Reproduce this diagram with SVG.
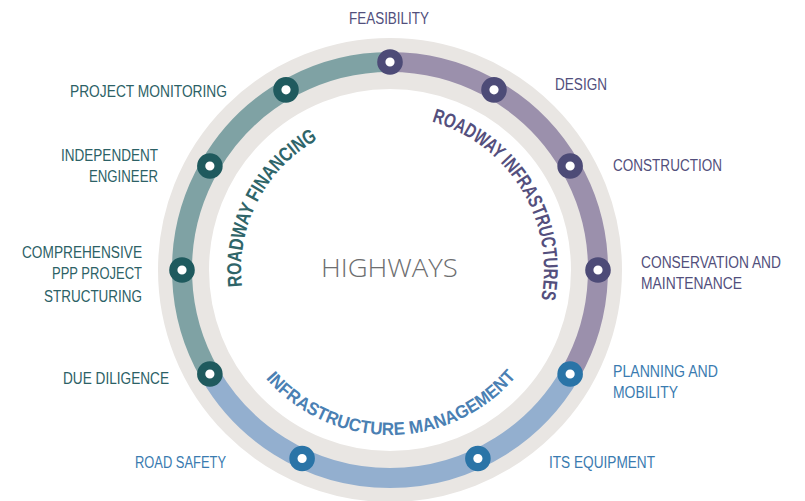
<svg xmlns="http://www.w3.org/2000/svg" xmlns:xlink="http://www.w3.org/1999/xlink" width="805" height="501" viewBox="0 0 805 501">
<style>
.lbl{font-family:"Liberation Sans",Arial,sans-serif;font-size:17px;}
.teal{fill:#2c6166;}
.purp{fill:#524f7c;}
.blue{fill:#3a7bb0;}
.arc{fill:none;stroke-width:20;stroke-linecap:butt;}
.dot{stroke-width:8.2;fill:#ffffff;}
.dT{stroke:#1f5a5e;}
.dP{stroke:#4d4b77;}
.dB{stroke:#2a74a7;}
.cur{font-family:"Liberation Sans",Arial,sans-serif;font-weight:bold;}
</style>
<defs>
<path id="pFin" d="M242.0,286.5 A149,149 0 0,1 317.0,140.0"/>
<path id="pInf" d="M431.7,121.7 A154,154 0 0,1 541.1,299.6"/>
<path id="pMan" d="M265.7,378.5 A165,165 0 0,0 516.2,376.3"/>
</defs>
<rect width="805" height="501" fill="#ffffff"/>
<circle id="outer-ring" cx="390" cy="270" r="206.5" fill="none" stroke="#e9e6e3" stroke-width="51"/>
<g id="connectors">
<path class="arc" stroke="#7fa2a4" d="M209.87,374 A208,208 0 0,1 390,62"/>
<path class="arc" stroke="#9b90ac" d="M390,62 A208,208 0 0,1 570.13,374"/>
<path class="arc" stroke="#93afcf" d="M570.13,374 A208,208 0 0,1 209.87,374"/>
</g>
<g id="center">
<text transform="matrix(0.85 0 0 1 321 277)" x="0" y="0" textLength="161" lengthAdjust="spacingAndGlyphs" style="font-family:'Open Sans','Liberation Sans',sans-serif;font-weight:300;font-size:25px;fill:#6d6e70">HIGHWAYS</text>
</g>
<g id="group-financing">
<text class="cur" style="font-size:20px;fill:#2f6569"><textPath xlink:href="#pFin" href="#pFin" textLength="175" lengthAdjust="spacingAndGlyphs">ROADWAY FINANCING</textPath></text>
</g>
<g id="group-infrastructures">
<text class="cur" style="font-size:20px;fill:#544f7d"><textPath xlink:href="#pInf" href="#pInf" textLength="229" lengthAdjust="spacingAndGlyphs">ROADWAY INFRASTRUCTURES</textPath></text>
</g>
<g id="group-management">
<text class="cur" style="font-size:18px;fill:#4a80b3"><textPath xlink:href="#pMan" href="#pMan" textLength="284" lengthAdjust="spacingAndGlyphs">INFRASTRUCTURE MANAGEMENT</textPath></text>
</g>
<g id="node-feasibility">
<circle class="dot dP" cx="390" cy="62" r="8.7"/>
<text class="lbl purp" transform="matrix(0.8 0 0 1 349 24)" x="0" y="0" textLength="100" lengthAdjust="spacingAndGlyphs">FEASIBILITY</text>
</g>
<g id="node-design">
<circle class="dot dP" cx="494" cy="89.87" r="8.7"/>
<text class="lbl purp" transform="matrix(0.8 0 0 1 555 90)" x="0" y="0" textLength="65" lengthAdjust="spacingAndGlyphs">DESIGN</text>
</g>
<g id="node-construction">
<circle class="dot dP" cx="570.13" cy="166" r="8.7"/>
<text class="lbl purp" transform="matrix(0.8 0 0 1 613 171)" x="0" y="0" textLength="136.25" lengthAdjust="spacingAndGlyphs">CONSTRUCTION</text>
</g>
<g id="node-conservation">
<circle class="dot dP" cx="598" cy="270" r="8.7"/>
<text class="lbl purp" transform="matrix(0.8 0 0 1 641 268)" x="0" y="0" textLength="175" lengthAdjust="spacingAndGlyphs">CONSERVATION AND</text>
<text class="lbl purp" transform="matrix(0.8 0 0 1 641 289)" x="0" y="0" textLength="126.25" lengthAdjust="spacingAndGlyphs">MAINTENANCE</text>
</g>
<g id="node-planning">
<circle class="dot dB" cx="570.13" cy="374" r="8.7"/>
<text class="lbl blue" transform="matrix(0.8 0 0 1 613 377)" x="0" y="0" textLength="131.25" lengthAdjust="spacingAndGlyphs">PLANNING AND</text>
<text class="lbl blue" transform="matrix(0.8 0 0 1 613 398)" x="0" y="0" textLength="81.25" lengthAdjust="spacingAndGlyphs">MOBILITY</text>
</g>
<g id="node-its">
<circle class="dot dB" cx="477.9" cy="458.5" r="8.7"/>
<text class="lbl blue" transform="matrix(0.8 0 0 1 549 468)" x="0" y="0" textLength="132.5" lengthAdjust="spacingAndGlyphs">ITS EQUIPMENT</text>
</g>
<g id="node-road-safety">
<circle class="dot dB" cx="302.1" cy="458.5" r="8.7"/>
<text class="lbl blue" transform="matrix(0.8 0 0 1 135 468)" x="0" y="0" textLength="113.75" lengthAdjust="spacingAndGlyphs">ROAD SAFETY</text>
</g>
<g id="node-due-diligence">
<circle class="dot dT" cx="209.87" cy="374" r="8.7"/>
<text class="lbl teal" transform="matrix(0.8 0 0 1 63 384)" x="0" y="0" textLength="132.5" lengthAdjust="spacingAndGlyphs">DUE DILIGENCE</text>
</g>
<g id="node-ppp">
<circle class="dot dT" cx="182" cy="270" r="8.7"/>
<text class="lbl teal" transform="matrix(0.8 0 0 1 22 258)" x="0" y="0" textLength="150" lengthAdjust="spacingAndGlyphs">COMPREHENSIVE</text>
<text class="lbl teal" transform="matrix(0.8 0 0 1 52 279)" x="0" y="0" textLength="112.5" lengthAdjust="spacingAndGlyphs">PPP PROJECT</text>
<text class="lbl teal" transform="matrix(0.8 0 0 1 44 301.5)" x="0" y="0" textLength="122.5" lengthAdjust="spacingAndGlyphs">STRUCTURING</text>
</g>
<g id="node-independent">
<circle class="dot dT" cx="209.87" cy="166" r="8.7"/>
<text class="lbl teal" transform="matrix(0.8 0 0 1 61 160.5)" x="0" y="0" textLength="121.25" lengthAdjust="spacingAndGlyphs">INDEPENDENT</text>
<text class="lbl teal" transform="matrix(0.8 0 0 1 89 181.5)" x="0" y="0" textLength="86.25" lengthAdjust="spacingAndGlyphs">ENGINEER</text>
</g>
<g id="node-monitoring">
<circle class="dot dT" cx="286" cy="89.87" r="8.7"/>
<text class="lbl teal" transform="matrix(0.8 0 0 1 70 97)" x="0" y="0" textLength="196.25" lengthAdjust="spacingAndGlyphs">PROJECT MONITORING</text>
</g>
</svg>
